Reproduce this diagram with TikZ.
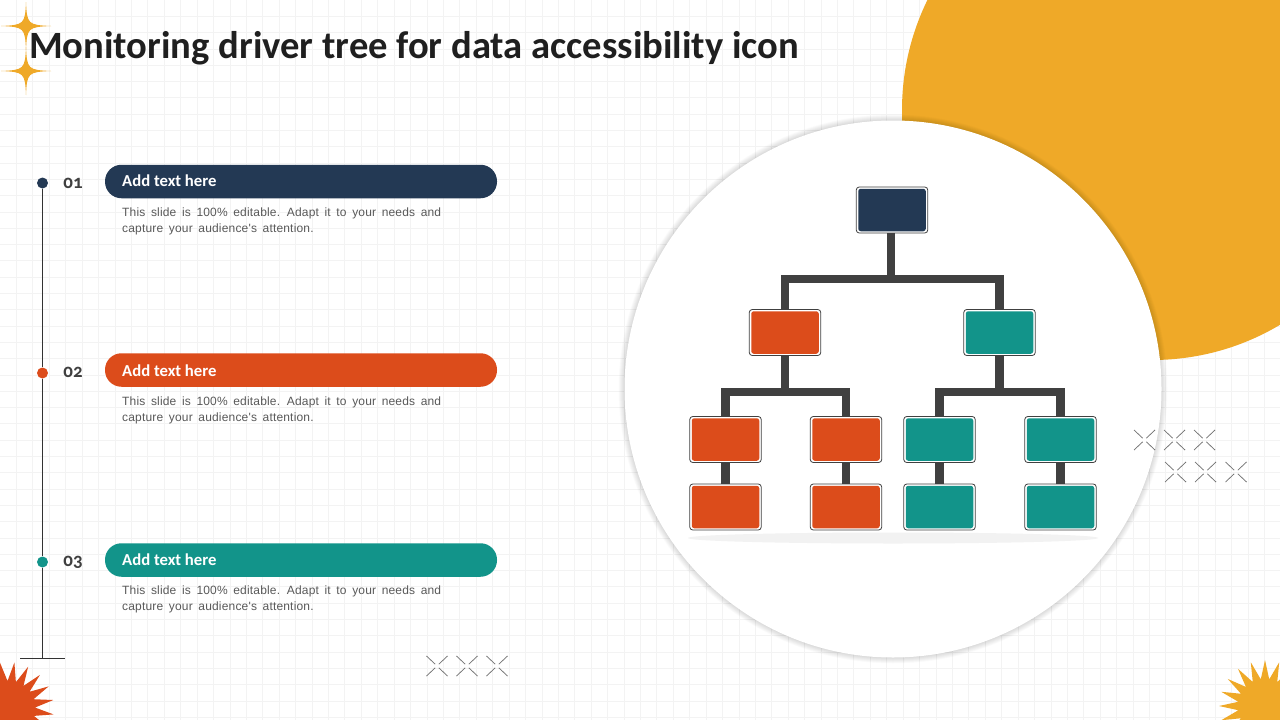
\documentclass[tikz,border=0pt]{standalone}
\usepackage{fontspec}
\setmainfont{Liberation Sans}
\newfontfamily\headfont[Numbers=OldStyle]{Carlito}
\newfontfamily\bodyfont[LetterSpace=1.5,WordSpace=1.6]{Liberation Sans}
\definecolor{navyc}{HTML}{233954}
\definecolor{orangec}{HTML}{DC4C1B}
\definecolor{tealc}{HTML}{12948A}
\definecolor{goldc}{HTML}{EFA928}
\definecolor{gridc}{HTML}{F3F3F3}
\definecolor{connc}{HTML}{404040}
\newcommand{\sparklemark}[2]{%
  \fill[goldc] (#1,#2-24) .. controls (#1+1,#2-2) and (#1+2,#2-1) .. (#1+25,#2)
    .. controls (#1+2,#2+1) and (#1+1,#2+2) .. (#1,#2+24)
    .. controls (#1-1,#2+2) and (#1-2,#2+1) .. (#1-25,#2)
    .. controls (#1-2,#2-1) and (#1-1,#2-2) .. cycle;}
\newcommand{\burstmark}[4]{%
  \fill[#3] ({#1+46*sin(#4)},{#2-46*cos(#4)})
    \foreach \k in {0,...,19}{ -- ({#1+27*sin(\k*18+9+#4)},{#2-27*cos(\k*18+9+#4)})
      -- ({#1+46*sin((\k+1)*18+#4)},{#2-46*cos((\k+1)*18+#4)}) } -- cycle;}
\newcommand{\crossmark}[2]{%
  \draw[crossline] (#1-10.5,#2-10) -- (#1-1.8,#2-1.8) (#1+10.5,#2-10) -- (#1+1.8,#2-1.8)
    (#1-10.5,#2+10) -- (#1-1.8,#2+1.8) (#1+10.5,#2+10) -- (#1+1.8,#2+1.8);}
\tikzset{
  crossline/.style={draw=black!55,line width=0.75pt},
  outerbox/.style={draw=connc,fill=white,line width=0.8pt,rounded corners=3pt,minimum width=71.5pt,minimum height=46pt,inner sep=0pt},
  innerbox/.style={rounded corners=2.5pt,minimum width=67.5pt,minimum height=42.5pt,inner sep=0pt,anchor=center},
  conn/.style={draw=connc,line width=8.5pt,line join=miter},
  pill/.style={rounded corners=16.5pt,minimum width=392pt,minimum height=33.5pt,inner sep=0pt},
  pilltext/.style={anchor=base west,text=white,font=\headfont\bfseries\fontsize{16.7}{18}\selectfont,inner sep=0pt},
  numtext/.style={anchor=center,text=black!75,font=\headfont\bfseries\fontsize{19}{20}\selectfont,inner sep=0pt},
  bodytext/.style={anchor=north west,text=black!65,align=left,font=\bodyfont\fontsize{12}{16}\selectfont,inner sep=0pt},
  dot/.style={circle,minimum size=11pt,inner sep=0pt},
  axis/.style={draw=black!80,line width=0.9pt},
}
\begin{document}
\begin{tikzpicture}[x=1pt,y=-1pt]
\useasboundingbox (0,0) rectangle (1280,720);
\clip (0,0) rectangle (1280,720);
\fill[white] (0,0) rectangle (1280,720);
% grid
\foreach \k in {1,...,78}{\draw[gridc,line width=0.7pt] (16.42*\k,0) -- (16.42*\k,720);}
\foreach \k in {1,...,44}{\draw[gridc,line width=0.7pt] (0,16.3*\k) -- (1280,16.3*\k);}
% background shapes
\fill[goldc] (1152,110) circle[radius=250];
\sparklemark{26}{26}
\sparklemark{26}{71}
\burstmark{8}{708}{orangec}{8}
\burstmark{1265}{706}{goldc}{0}
% big circle with soft rim
\foreach \r in {274.5,274,273.5,273,272.5,272,271.5,271,270.5,270,269.5,269}{\fill[black,opacity=0.01] (893,389) circle[radius=\r];}
\fill[white] (893,389) circle[radius=268.5];
\fill[black!5] (893,538) ellipse[x radius=205,y radius=5.5];
% title
\node[anchor=base west,inner sep=0pt,text=black!88,font=\headfont\bfseries\fontsize{38.6}{40}\selectfont] (title) at (29,58) {Monitoring driver tree for data accessibility icon};
% timeline
\coordinate (axisend) at (42.5,658);
\coordinate (baseL) at (20,658);
\coordinate (baseR) at (65,658);
\node[dot,fill=navyc] (d1) at (42.5,183) {};
\node[dot,fill=orangec] (d2) at (42.5,373) {};
\node[dot,fill=tealc] (d3) at (42.5,562) {};
\draw[axis] (d1) -- (d2);
\draw[axis] (d2) -- (d3);
\draw[axis] (d3) -- (axisend);
\draw[axis] (baseL) -- (baseR);
\node[numtext] (n1) at (73,183) {01};
\node[numtext] (n2) at (73,372) {02};
\node[numtext] (n3) at (73,562) {03};
% pills
\node[pill,fill=navyc] (p1) at (301,181.5) {};
\node[pill,fill=orangec] (p2) at (301,370) {};
\node[pill,fill=tealc] (p3) at (301,560) {};
\node[pilltext] (pt1) at (122,186) {Add text here};
\node[pilltext] (pt2) at (122,376) {Add text here};
\node[pilltext] (pt3) at (122,565) {Add text here};
\node[bodytext] (b1) at (122,208) {This slide is 100\% editable. Adapt it to your needs and\\capture your audience's attention.};
\node[bodytext] (b2) at (122,397) {This slide is 100\% editable. Adapt it to your needs and\\capture your audience's attention.};
\node[bodytext] (b3) at (122,586) {This slide is 100\% editable. Adapt it to your needs and\\capture your audience's attention.};
% crosses
\crossmark{437}{666}\crossmark{467}{666}\crossmark{497}{666}
\crossmark{1144.5}{440}\crossmark{1174.5}{440}\crossmark{1204.5}{440}
\crossmark{1175.5}{472}\crossmark{1205.5}{472}\crossmark{1236}{472}
% tree boxes
\node[outerbox] (top) at (892,210) {};
\node[outerbox] (ml) at (785,332.5) {};
\node[outerbox] (mr) at (999.5,332.5) {};
\node[outerbox] (a1) at (725.5,439.5) {};
\node[outerbox] (a2) at (846,439.5) {};
\node[outerbox] (a3) at (939.5,439.5) {};
\node[outerbox] (a4) at (1060.5,439.5) {};
\node[outerbox] (c1) at (725.5,507) {};
\node[outerbox] (c2) at (846,507) {};
\node[outerbox] (c3) at (939.5,507) {};
\node[outerbox] (c4) at (1060.5,507) {};
% connectors
\coordinate (j0) at (891,279);
\coordinate (j1) at (785,392);
\coordinate (j2) at (999.5,392);
\draw[conn] (top.south -| j0) -- (j0);
\draw[conn] (ml.north) |- (j0);
\draw[conn] (mr.north) |- (j0);
\draw[conn] (ml.south) -- (j1);
\draw[conn] (mr.south) -- (j2);
\draw[conn] (a1.north) |- (j1);
\draw[conn] (a2.north) |- (j1);
\draw[conn] (a3.north) |- (j2);
\draw[conn] (a4.north) |- (j2);
\draw[conn] (a1.south) -- (c1.north);
\draw[conn] (a2.south) -- (c2.north);
\draw[conn] (a3.south) -- (c3.north);
\draw[conn] (a4.south) -- (c4.north);
% fills
\node[innerbox,fill=navyc] (top-i) at (top) {};
\node[innerbox,fill=orangec] (ml-i) at (ml) {};
\node[innerbox,fill=tealc] (mr-i) at (mr) {};
\node[innerbox,fill=orangec] (a1-i) at (a1) {};
\node[innerbox,fill=orangec] (a2-i) at (a2) {};
\node[innerbox,fill=tealc] (a3-i) at (a3) {};
\node[innerbox,fill=tealc] (a4-i) at (a4) {};
\node[innerbox,fill=orangec] (c1-i) at (c1) {};
\node[innerbox,fill=orangec] (c2-i) at (c2) {};
\node[innerbox,fill=tealc] (c3-i) at (c3) {};
\node[innerbox,fill=tealc] (c4-i) at (c4) {};
\end{tikzpicture}
\end{document}
